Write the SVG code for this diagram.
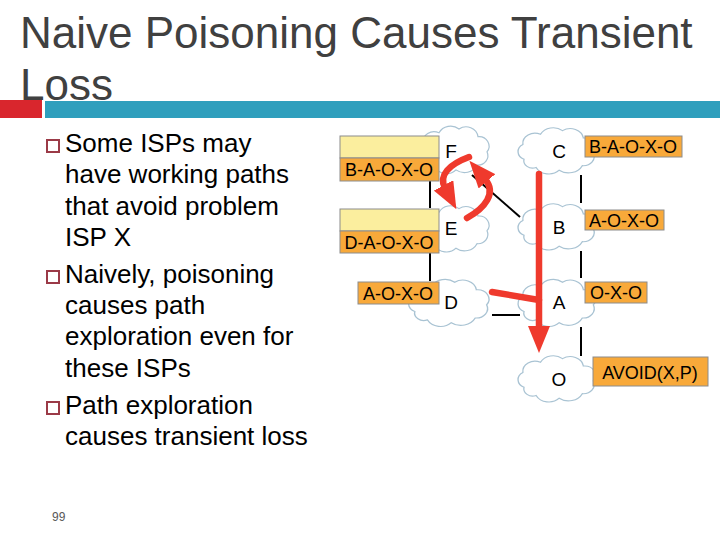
<svg xmlns="http://www.w3.org/2000/svg" width="720" height="540" viewBox="0 0 720 540">
<defs>
<style>
.title{font-family:"Liberation Sans",Arial,sans-serif;font-size:44px;fill:#404040}
.body{font-family:"Liberation Sans",Arial,sans-serif;font-size:26px;fill:#000}
.bul{fill:none;stroke:#9b3a47;stroke-width:2}
.cloud{fill:#fff;stroke:#a9c3d3;stroke-width:1.2;vector-effect:non-scaling-stroke}
.nl{font-family:"Liberation Sans",Arial,sans-serif;font-size:19px;fill:#000;text-anchor:middle}
.lab{font-family:"Liberation Sans",Arial,sans-serif;font-size:18px;fill:#000;text-anchor:middle}
.org{fill:#f8a93a;stroke:#8c8c8c;stroke-width:1}
.yel{fill:#fbee9e;stroke:#8c8c8c;stroke-width:1}
.blk{stroke:#000;stroke-width:2;fill:none}
.red{stroke:#ef3a2d;stroke-width:6.5;fill:none;stroke-linecap:round}
</style>
<path id="cloudshape" d="M -30,10 A 9,9 0 0 1 -31,-6 A 11,11 0 0 1 -15,-17 A 13,13 0 0 1 5,-21 A 12,12 0 0 1 24,-13 A 10,10 0 0 1 33,3 A 10,10 0 0 1 23,17 A 14,14 0 0 1 2,22 A 13,13 0 0 1 -19,19 A 8,8 0 0 1 -30,10 Z"/>
<marker id="ah" markerUnits="userSpaceOnUse" viewBox="0 0 27 22" markerWidth="27" markerHeight="22" refX="3" refY="11" orient="auto">
<path d="M0,0 L27,11 L0,22 Z" fill="#ef3a2d"/>
</marker>
</defs>
<rect width="720" height="540" fill="#fff"/>
<g id="title">
<text class="title" x="20" y="48">Naive Poisoning Causes Transient</text>
<text class="title" x="20" y="100">Loss</text>
<rect x="0" y="100" width="42" height="18" fill="#d9262d"/>
<rect x="45" y="101" width="675" height="17" fill="#2f9fbd"/>
</g>
<g id="bullets">
<rect class="bul" x="47" y="140" width="12" height="12"/>
<rect class="bul" x="47" y="271" width="12" height="12"/>
<rect class="bul" x="47" y="402" width="12" height="12"/>
<text class="body" x="65" y="152">Some ISPs may</text>
<text class="body" x="65" y="183">have working paths</text>
<text class="body" x="65" y="215">that avoid problem</text>
<text class="body" x="65" y="246">ISP X</text>
<text class="body" x="65" y="283">Naively, poisoning</text>
<text class="body" x="65" y="314">causes path</text>
<text class="body" x="65" y="345">exploration even for</text>
<text class="body" x="65" y="377">these ISPs</text>
<text class="body" x="65" y="414">Path exploration</text>
<text class="body" x="65" y="445">causes transient loss</text>
<text x="52" y="521" font-family="Liberation Sans, Arial, sans-serif" font-size="12" fill="#595959">99</text>
</g>
<g id="nodeF"><use href="#cloudshape" class="cloud" transform="translate(454,149) scale(1.0,0.95)"/><text class="nl" x="451" y="158">F</text></g>
<g id="nodeE"><use href="#cloudshape" class="cloud" transform="translate(454,228) scale(1.0,0.92)"/><text class="nl" x="451" y="235">E</text></g>
<g id="nodeD"><use href="#cloudshape" class="cloud" transform="translate(449,302) scale(1.14,0.94)"/><text class="nl" x="451" y="309">D</text></g>
<g id="nodeC"><use href="#cloudshape" class="cloud" transform="translate(557,150) scale(1.1,0.92)"/><text class="nl" x="559" y="158">C</text></g>
<g id="nodeB"><use href="#cloudshape" class="cloud" transform="translate(557,226) scale(1.1,0.92)"/><text class="nl" x="559" y="234">B</text></g>
<g id="nodeA"><use href="#cloudshape" class="cloud" transform="translate(557,302) scale(1.1,0.94)"/><text class="nl" x="559" y="309">A</text></g>
<g id="nodeO"><use href="#cloudshape" class="cloud" transform="translate(557,378) scale(1.1,0.92)"/><text class="nl" x="559" y="386">O</text></g>
<g id="connectors">
<line class="blk" x1="430" y1="181" x2="430" y2="208"/>
<line class="blk" x1="430" y1="253" x2="430" y2="281"/>
<line class="blk" x1="581" y1="175" x2="581" y2="203"/>
<line class="blk" x1="581" y1="251" x2="581" y2="278"/>
<line class="blk" x1="581" y1="327" x2="581" y2="356"/>
<line class="blk" x1="472" y1="175" x2="520" y2="217"/>
<line class="blk" x1="492" y1="315" x2="520" y2="315"/>
<path class="red" d="M492,292 L539,300"/>
<path class="red" d="M539,174 L539,329" stroke-linecap="butt" marker-end="url(#ah)"/>
<path class="red" d="M469,157 C450,164 438,175 445,188" marker-end="url(#ah)"/>
<path class="red" d="M467,218 C485,208 497,193 485,179" marker-end="url(#ah)"/>
</g>
<g id="labels">
<rect class="yel" x="340" y="136" width="99" height="22"/>
<rect class="org" x="340" y="158" width="99" height="23"/>
<text class="lab" x="389" y="176">B-A-O-X-O</text>
<rect class="yel" x="340" y="209" width="99" height="22"/>
<rect class="org" x="340" y="231" width="99" height="22"/>
<text class="lab" x="389" y="249">D-A-O-X-O</text>
<rect class="org" x="358" y="282" width="81" height="22"/>
<text class="lab" x="398" y="300">A-O-X-O</text>
<rect class="org" x="585" y="136" width="97" height="21"/>
<text class="lab" x="633" y="153">B-A-O-X-O</text>
<rect class="org" x="585" y="210" width="79" height="20"/>
<text class="lab" x="624" y="227">A-O-X-O</text>
<rect class="org" x="585" y="282" width="62" height="21"/>
<text class="lab" x="616" y="299">O-X-O</text>
<rect class="org" x="593" y="357" width="115" height="29"/>
<text class="lab" x="650" y="379" font-size="20">AVOID(X,P)</text>
</g>
</svg>
